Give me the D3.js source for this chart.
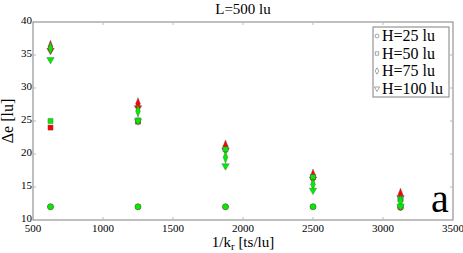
<!DOCTYPE html>
<html>
<head>
<meta charset="utf-8">
<script src="https://cdn.jsdelivr.net/npm/d3@7"></script>
<style>
  body { margin: 0; background: #fff; }
  svg text { font-family: "Liberation Serif", "Times New Roman", "DejaVu Serif", serif; fill: #000; }
</style>
</head>
<body>
<svg id="chart" width="463" height="253"></svg>
<script>
let width = 463;
let height = 253;
let margin = { top: 22, right: 10, bottom: 33, left: 33 };

let xValues = [625, 1250, 1875, 2500, 3125];
let heights = ["H=25 lu", "H=50 lu", "H=75 lu", "H=100 lu"];
let shapes = [d3.symbolCircle, d3.symbolSquare, d3.symbolDiamond, d3.symbolTriangle];

// red markers (first run), one array per H
let redH25 = [12, 12, 12, 12, 11.9];
let redH50 = [24, 24.9, 20.9, 16.5, 13.2];
let redH75 = [36.3, 27.6, 21.2, 16.8, 13.9];
let redH100 = [35.7, 27, 20.6, 16.2, 13.4];

// green markers (second run)
let greenH25 = [12, 12, 12, 12, 12];
let greenH50 = [25, 25.1, 20.7, 16.5, 13.2];
let greenH75 = [36, 26.5, 19.5, 15.4, 12.8];
let greenH100 = [34.3, 25, 18.2, 14.5, 12.1];

let xTicks = [500, 1000, 1500, 2000, 2500, 3000, 3500];
let yTicks = [10, 15, 20, 25, 30, 35, 40];

let svg = d3.select("#chart");

let x = d3.scaleLinear()
    .domain([500, 3500])
    .range([margin.left, width - margin.right]);

let y = d3.scaleLinear()
    .domain([10, 40])
    .range([height - margin.bottom, margin.top]);

// frame
svg.append("rect")
    .attr("x", x(500))
    .attr("y", y(40))
    .attr("width", x(3500) - x(500))
    .attr("height", y(10) - y(40))
    .attr("fill", "none")
    .attr("stroke", "#808080")
    .attr("stroke-width", 1);

// inward ticks on all four sides
let tickLen = 3;
let innerX = xTicks.slice(1, -1);
let innerY = yTicks.slice(1, -1);
svg.append("g").selectAll("line")
    .data(innerX)
    .join("line")
    .attr("x1", d => x(d)).attr("x2", d => x(d))
    .attr("y1", y(10)).attr("y2", y(10) - tickLen)
    .attr("stroke", "#bbb");
svg.append("g").selectAll("line")
    .data(innerX)
    .join("line")
    .attr("x1", d => x(d)).attr("x2", d => x(d))
    .attr("y1", y(40)).attr("y2", y(40) + tickLen)
    .attr("stroke", "#bbb");
svg.append("g").selectAll("line")
    .data(innerY)
    .join("line")
    .attr("x1", x(500)).attr("x2", x(500) + tickLen)
    .attr("y1", d => y(d)).attr("y2", d => y(d))
    .attr("stroke", "#bbb");
svg.append("g").selectAll("line")
    .data(innerY)
    .join("line")
    .attr("x1", x(3500)).attr("x2", x(3500) - tickLen)
    .attr("y1", d => y(d)).attr("y2", d => y(d))
    .attr("stroke", "#bbb");

// tick labels
svg.append("g").selectAll("text")
    .data(xTicks)
    .join("text")
    .attr("x", d => x(d))
    .attr("y", y(10) + 12)
    .attr("text-anchor", "middle")
    .style("font-size", "11px")
    .text(d => d);

svg.append("g").selectAll("text")
    .data(yTicks)
    .join("text")
    .attr("x", x(500) - 1)
    .attr("y", d => y(d) + 2)
    .attr("text-anchor", "end")
    .style("font-size", "11px")
    .text(d => d);

// title and axis labels
svg.append("text")
    .attr("x", (x(500) + x(3500)) / 2)
    .attr("y", 14)
    .attr("text-anchor", "middle")
    .style("font-size", "15px")
    .text("L=500 lu");

let xl = svg.append("text")
    .attr("x", (x(500) + x(3500)) / 2)
    .attr("y", 247)
    .attr("text-anchor", "middle")
    .style("font-size", "15px");
xl.append("tspan").text("1/k");
xl.append("tspan").attr("dy", 3).style("font-size", "11px").text("r");
xl.append("tspan").attr("dy", -3).text(" [ts/lu]");

svg.append("text")
    .attr("transform", `translate(13,${(y(10) + y(40)) / 2}) rotate(-90)`)
    .attr("text-anchor", "middle")
    .style("font-size", "16px")
    .text("Δe [lu]");

svg.append("text")
    .attr("x", 431)
    .attr("y", 212)
    .style("font-size", "40px")
    .text("a");

// markers
let redSeries = [redH25, redH50, redH75, redH100];
let greenSeries = [greenH25, greenH50, greenH75, greenH100];
let symSizes = [28, 26, 30, 24];

function drawSeries(series, fill) {
  series.forEach((vals, i) => {
    let sym = d3.symbol().type(shapes[i]).size(symSizes[i]);
    svg.append("g").selectAll("path")
      .data(vals)
      .join("path")
      .attr("transform", (d, j) => {
        let rot = shapes[i] === d3.symbolTriangle ? " rotate(180)" : "";
        let sy = shapes[i] === d3.symbolDiamond ? " scale(0.8,1.2)" : "";
        return `translate(${x(xValues[j])},${y(d)})${rot}${sy}`;
      })
      .attr("d", sym)
      .attr("fill", fill)
      .attr("stroke", "#555")
      .attr("stroke-width", 0.4);
  });
}
drawSeries(redSeries, "#ff0000");
drawSeries(greenSeries, "#00ee00");

// legend
let legend = svg.append("g");
legend.append("rect")
    .attr("x", 373)
    .attr("y", 27)
    .attr("width", 76)
    .attr("height", 70)
    .attr("fill", "#fff")
    .attr("stroke", "#808080");

let legendRows = legend.selectAll("g")
    .data(heights)
    .join("g")
    .attr("transform", (d, i) => `translate(377,${36 + i * 17.5})`);

legendRows.append("path")
    .attr("d", (d, i) => d3.symbol().type(shapes[i]).size(12)())
    .attr("transform", (d, i) => shapes[i] === d3.symbolTriangle ? "rotate(180)" : "")
    .attr("fill", "#fff")
    .attr("stroke", "#666")
    .attr("stroke-width", 0.6);

legendRows.append("text")
    .attr("x", 5)
    .attr("y", 5)
    .style("font-size", "16px")
    .text(d => d);
</script>
</body>
</html>
